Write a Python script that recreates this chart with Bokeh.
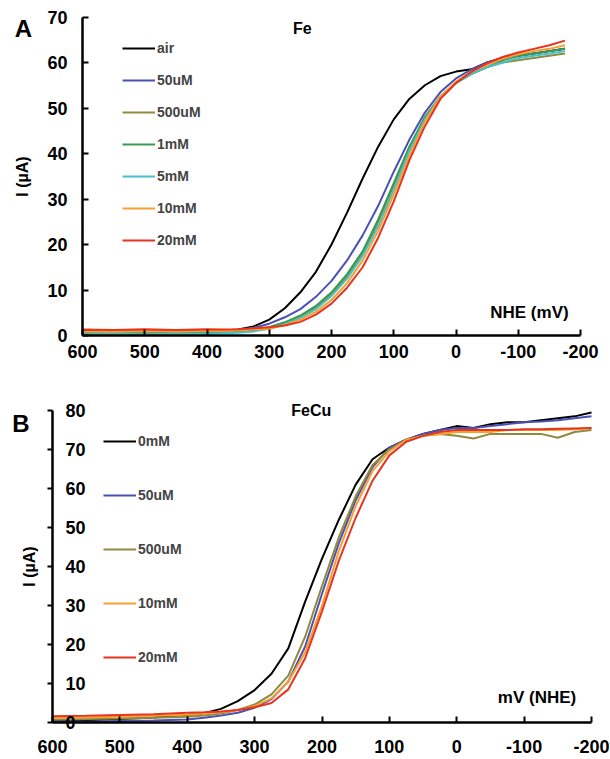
from bokeh.plotting import figure
from bokeh.models import Range1d, FixedTicker, Legend, LegendItem, Label
from bokeh.layouts import column
from bokeh.embed import file_html
from bokeh.resources import INLINE
from bokeh.core.properties import value

# ---------------- data ----------------
x_ticks = [600, 500, 400, 300, 200, 100, 0, -100, -200]
ya_ticks = [0, 10, 20, 30, 40, 50, 60, 70]
yb_ticks = [0, 10, 20, 30, 40, 50, 60, 70, 80]

# Panel A (Fe)
mv_a = [600, 550, 500, 450, 400, 375, 350, 325, 300, 275, 250, 225, 200, 175,
        150, 125, 100, 75, 50, 25, 0, -25, -50, -75, -100, -125, -150, -175]
a_air = [1.0, 0.8, 1.0, 0.9, 1.0, 1.1, 1.3, 2.0, 3.5, 6.0, 9.5, 14.0, 20.0, 27.0,
         34.5, 41.5, 47.5, 52.0, 55.0, 57.0, 58.0, 58.5, 60.0, 61.0, 61.5, 62.0, 62.5, 63.0]
a_50uM = [0.5, 0.6, 0.5, 0.6, 0.7, 0.9, 1.1, 1.7, 2.6, 4.0, 5.8, 8.5, 12.0, 16.5,
          22.0, 28.5, 36.0, 43.0, 49.0, 53.5, 56.5, 58.5, 60.0, 61.0, 61.5, 62.0, 62.5, 63.0]
a_500uM = [0.6, 0.5, 0.7, 0.6, 0.6, 0.7, 0.8, 1.2, 1.8, 2.8, 4.2, 6.2, 9.0, 13.0,
           18.0, 25.0, 33.0, 41.0, 48.0, 52.5, 55.5, 57.5, 59.0, 60.0, 60.5, 61.0, 61.5, 62.0]
a_1mM = [0.4, 0.5, 0.4, 0.5, 0.5, 0.6, 0.8, 1.2, 1.8, 2.9, 4.4, 6.5, 9.5, 13.5,
         18.5, 25.5, 33.5, 41.5, 48.0, 52.5, 55.5, 57.5, 59.0, 60.5, 61.5, 62.0, 62.5, 63.0]
a_5mM = [0.3, 0.4, 0.3, 0.4, 0.4, 0.5, 0.6, 0.9, 1.5, 2.5, 3.9, 5.8, 8.7, 12.5,
         17.5, 24.0, 32.0, 40.5, 47.5, 52.5, 55.5, 57.5, 59.0, 60.0, 61.0, 61.5, 62.0, 62.5]
a_10mM = [0.9, 0.8, 1.0, 0.9, 1.0, 1.0, 1.1, 1.3, 1.5, 2.3, 3.5, 5.2, 7.8, 11.5,
          16.5, 23.0, 31.0, 39.5, 47.0, 52.5, 55.8, 58.0, 59.5, 60.8, 61.8, 62.5, 63.0, 63.8]
a_20mM = [1.3, 1.2, 1.4, 1.2, 1.4, 1.3, 1.4, 1.6, 1.8, 2.2, 3.0, 4.6, 7.0, 10.5,
          15.0, 21.5, 29.5, 38.5, 46.0, 52.0, 55.5, 58.0, 59.8, 61.2, 62.2, 63.0, 63.8, 64.8]
a_labels = ["air", "50uM", "500uM", "1mM", "5mM", "10mM", "20mM"]

# Panel B (FeCu)
mv_b = [600, 550, 500, 450, 400, 375, 350, 325, 300, 275, 250, 225, 200, 175,
        150, 125, 100, 75, 50, 25, 0, -25, -50, -75, -100, -125, -150, -175, -200]
b_0mM = [0.5, 0.6, 0.9, 1.3, 1.9, 2.4, 3.5, 5.5, 8.3, 12.5, 19.0, 31.0, 42.0, 52.0,
         61.0, 67.5, 70.5, 72.5, 74.0, 75.0, 76.0, 75.5, 76.5, 77.0, 77.0, 77.5, 78.0, 78.5, 79.5]
b_50uM = [0.3, 0.2, 0.4, 0.5, 0.8, 1.2, 1.8, 2.5, 3.8, 6.0, 10.5, 19.5, 33.0, 46.0,
          57.0, 65.5, 70.5, 72.5, 74.0, 75.0, 75.5, 75.5, 76.0, 76.5, 77.0, 77.2, 77.5, 78.0, 78.5]
b_500uM = [0.8, 0.9, 1.0, 1.2, 1.5, 1.8, 2.3, 3.2, 4.6, 7.2, 12.0, 22.0, 35.0, 47.5,
           58.0, 66.0, 70.0, 72.5, 73.5, 74.0, 73.5, 72.8, 74.0, 74.0, 74.0, 74.0, 73.0, 74.5, 75.0]
b_10mM = [1.2, 1.3, 1.5, 1.7, 2.0, 2.3, 2.6, 3.2, 4.2, 6.2, 10.5, 18.0, 30.0, 44.0,
          55.5, 64.5, 69.5, 72.5, 73.5, 74.0, 74.5, 74.5, 74.5, 75.0, 75.0, 75.0, 75.0, 75.2, 75.5]
b_20mM = [1.6, 1.7, 1.9, 2.1, 2.5, 2.6, 2.8, 3.2, 3.9, 5.0, 8.5, 16.5, 28.5, 41.5,
          52.5, 62.0, 68.5, 72.0, 73.5, 74.5, 75.0, 75.0, 75.0, 75.0, 75.2, 75.2, 75.3, 75.4, 75.5]
b_labels = ["0mM", "50uM", "500uM", "10mM", "20mM"]

colors_a = ["#000000", "#4b50b4", "#8f8a3e", "#3a9a50", "#45c0cc", "#f5a030", "#e8331f"]
colors_b = ["#000000", "#4b50b4", "#8f8a3e", "#f5a030", "#e8331f"]

FONT = "Liberation Sans"
W = 610


def ranges(total_w, total_h, x0px, x1px, y_top_px, y_bot_px, x0, x1, y_top, y_bot):
    """Ranges so that data x0->x0px, x1->x1px, y_top->y_top_px, y_bot->y_bot_px
    (pixels inside a frame that fills the whole figure)."""
    sx = (x1px - x0px) / (x1 - x0)
    xs = x0 - x0px / sx
    xe = xs + total_w / sx
    sy = (y_bot_px - y_top_px) / (y_bot - y_top)
    ye = y_top - y_top_px / sy
    ys = ye + total_h / sy
    return Range1d(xs, xe), Range1d(ys, ye)


def style(p, y_ticks, y_max):
    p.xgrid.visible = False
    p.ygrid.visible = False
    p.outline_line_color = None
    p.xaxis.ticker = FixedTicker(ticks=x_ticks)
    p.yaxis.ticker = FixedTicker(ticks=y_ticks)
    p.xaxis.bounds = (min(x_ticks), max(x_ticks))
    p.yaxis.bounds = (0, y_max)
    p.xaxis.fixed_location = 0
    p.yaxis.fixed_location = max(x_ticks)
    p.xaxis.major_label_overrides = {t: str(t) for t in x_ticks}
    for ax in (p.xaxis, p.yaxis):
        ax.axis_line_width = 2.5
        ax.axis_line_color = "black"
        ax.major_tick_line_width = 2
        ax.major_tick_line_color = "black"
        ax.minor_tick_line_color = None
        ax.major_label_text_font = FONT
        ax.major_label_text_font_style = "bold"
        ax.major_label_text_font_size = "18px"
        ax.major_label_text_color = "black"
        ax.axis_label_text_font = FONT
        ax.axis_label_text_font_style = "bold"
        ax.axis_label_text_font_size = "16px"
        ax.axis_label_text_color = "black"


def add_label(p, x, y, text, size, align="center"):
    p.add_layout(Label(x=x, y=y, text=text, text_font=FONT, text_font_style="bold",
                       text_font_size=size, text_align=align, text_baseline="middle",
                       text_color="black"))


# ---------------- Panel A ----------------
HA = 378
xrA, yrA = ranges(W, HA, 82, 580, 16.5, 335, 600, -200, 70, 0)
pA = figure(width=W, height=HA, x_range=xrA, y_range=yrA,
            output_backend="svg", toolbar_location=None,
            min_border=0, min_border_left=0, min_border_right=0,
            min_border_top=0, min_border_bottom=0)
style(pA, ya_ticks, 70)
pA.xaxis.major_tick_in = 6
pA.xaxis.major_tick_out = 0
pA.xaxis.major_label_standoff = 9
pA.yaxis.major_tick_in = 6
pA.yaxis.major_tick_out = 0
pA.yaxis.major_label_standoff = 15
pA.yaxis.axis_label = "I (µA)"
pA.yaxis.axis_label_standoff = 13

series_a = [a_air, a_50uM, a_500uM, a_1mM, a_5mM, a_10mM, a_20mM]
items_a = []
for lab, ys, c in zip(a_labels, series_a, colors_a):
    r = pA.line(mv_a, ys, line_color=c, line_width=2)
    items_a.append(LegendItem(label=lab, renderers=[r]))
leg_a = Legend(items=items_a, location=(122, 128), glyph_width=33, glyph_height=20,
               label_height=20, spacing=12, padding=0, margin=0, label_standoff=2,
               border_line_color=None, background_fill_alpha=0,
               label_text_font=FONT, label_text_font_style="bold",
               label_text_font_size="14px")
pA.add_layout(leg_a)
add_label(pA, 695, 67.4, "A", "24px")
add_label(pA, 247, 67.4, "Fe", "16px")
add_label(pA, -55, 5.0, "NHE (mV)", "17px", align="left")

# ---------------- Panel B ----------------
HB = 381
xrB, yrB = ranges(W, HB, 52, 591, 32, 344, 600, -200, 80, 0)
pB = figure(width=W, height=HB, x_range=xrB, y_range=yrB,
            output_backend="svg", toolbar_location=None,
            min_border=0, min_border_left=0, min_border_right=0,
            min_border_top=0, min_border_bottom=0)
style(pB, yb_ticks, 80)
pB.xaxis.major_tick_in = 6
pB.xaxis.major_tick_out = 0
pB.xaxis.major_label_standoff = 17
pB.yaxis.major_tick_in = 0
pB.yaxis.major_tick_out = 5
pB.yaxis.major_label_standoff = 0
pB.yaxis.major_label_overrides = {t: "" for t in yb_ticks}
pB.yaxis.axis_label = "I (µA)"
pB.yaxis.axis_label_standoff = 10

series_b = [b_0mM, b_50uM, b_500uM, b_10mM, b_20mM]
items_b = []
for lab, ys, c in zip(b_labels, series_b, colors_b):
    r = pB.line(mv_b, ys, line_color=c, line_width=2)
    items_b.append(LegendItem(label=lab, renderers=[r]))
leg_b = Legend(items=items_b, location=(103, 92), glyph_width=33, glyph_height=20,
               label_height=20, spacing=34, padding=0, margin=0, label_standoff=2,
               border_line_color=None, background_fill_alpha=0,
               label_text_font=FONT, label_text_font_style="bold",
               label_text_font_size="14px")
pB.add_layout(leg_b)

# y tick labels drawn right of the axis line, as in the original
pB.text(x=[max(x_ticks)] * len(yb_ticks), y=yb_ticks, text=[str(t) for t in yb_ticks],
        x_offset=13, text_align="left", text_baseline="middle",
        text_font=value(FONT), text_font_style="bold", text_font_size="18px",
        text_color="black")

add_label(pB, 647, 76.7, "B", "24px")
add_label(pB, 216, 80, "FeCu", "16px")
add_label(pB, -61, 6.4, "mV (NHE)", "17px", align="left")

layout = column(pA, pB)
open("out.html", "w").write(file_html(layout, INLINE))
